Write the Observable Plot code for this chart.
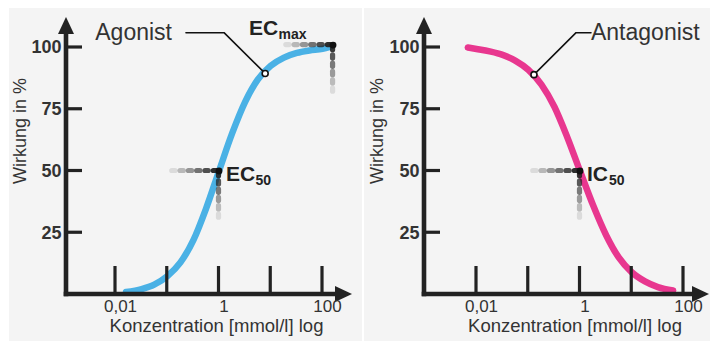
<!DOCTYPE html>
<html><head><meta charset="utf-8">
<script src="https://cdn.jsdelivr.net/npm/d3@7"></script>
<script src="https://cdn.jsdelivr.net/npm/@observablehq/plot@0.6"></script>
<style>
html,body{margin:0;padding:0;background:#fff;width:710px;height:341px;overflow:hidden;font-family:"Liberation Sans",Arial,sans-serif;}
.panel{position:absolute;top:8px;background:#f4f4f4;height:333px;}
#left{left:9px;width:353px;}
#right{left:364px;width:346px;}
svg{overflow:visible}
</style></head><body>
<div id="left" class="panel"></div><div id="right" class="panel"></div>
<script>
// ---- data ----
const xTickValues = [0.01, 0.1, 1, 10, 100];
const xLabelValues = [0.01, 1, 100];
const xLabelTexts = ["0,01", "1", "100"];
const yTickValues = [25, 50, 75, 100];
const xTitle = "Konzentration [mmol/l] log";
const yTitle = "Wirkung in %";

const agonistConc   = [0.016, 0.032, 0.056, 0.1, 0.18, 0.32, 0.56, 1, 1.8, 3.2, 5.6, 10, 18, 32, 56, 100, 140];
const agonistEffect = [1, 2.2, 4, 7.4, 13, 22, 34.7, 50, 65.3, 78, 87, 92.6, 95.9, 97.8, 98.8, 99.5, 100.3];

const antagonistConc   = [0.0068, 0.01, 0.018, 0.032, 0.056, 0.1, 0.18, 0.32, 0.56, 1, 1.8, 3.2, 5.6, 10, 18, 32, 63];
const antagonistEffect = [100, 99.4, 98.4, 97, 94.7, 91, 85, 76, 64, 50, 36, 24, 15, 9, 5.3, 3, 1.6];

// annotation points (concentration, effect)
const agonistName = "Agonist";
const agonistLeaderConc = [0.23, 1.25, 7.8];
const agonistLeaderEffect = [106, 106, 89.5];
const ec50Point = {conc: 1, effect: 50};
const ecMaxPoint = {conc: 160, effect: 101};

const antagonistName = "Antagonist";
const antagonistLeaderConc = [1.63, 0.84, 0.129];
const antagonistLeaderEffect = [106, 106, 89];
const ic50Point = {conc: 1, effect: 50};

const FONT = '"Liberation Sans", Arial, Helvetica, sans-serif';
const INK = "#222";
const TEXT = "#333";
const NS = "http://www.w3.org/2000/svg";

function el(tag, attrs) {
  const e = document.createElementNS(NS, tag);
  for (const k in attrs) e.setAttribute(k, attrs[k]);
  return e;
}

// axis lines, arrowheads and tick strokes, positioned by the plot's scales
function axesMark(index, scales, values, dims) {
  const g = el("g", {});
  const x0 = dims.marginLeft, y0 = scales.y(0);
  const xEnd = dims.width - dims.marginRight, yEnd = dims.marginTop;
  const ah = 17, aw = 8;
  g.appendChild(el("line", {x1: x0, y1: y0 + 2.3, x2: x0, y2: yEnd + ah - 1, stroke: INK, "stroke-width": 4.6}));
  g.appendChild(el("line", {x1: x0 - 2.3, y1: y0, x2: xEnd - ah + 1, y2: y0, stroke: INK, "stroke-width": 4.6}));
  g.appendChild(el("polygon", {points: `${x0},${yEnd} ${x0 - aw},${yEnd + ah} ${x0 + aw},${yEnd + ah}`, fill: INK}));
  g.appendChild(el("polygon", {points: `${xEnd},${y0} ${xEnd - ah},${y0 - aw} ${xEnd - ah},${y0 + aw}`, fill: INK}));
  for (const v of xTickValues) {
    const px = scales.x(v);
    g.appendChild(el("line", {x1: px, y1: y0, x2: px, y2: y0 - 28, stroke: INK, "stroke-width": 3.2}));
  }
  for (const v of yTickValues) {
    const py = scales.y(v);
    g.appendChild(el("line", {x1: x0, y1: py, x2: x0 + 16, y2: py, stroke: INK, "stroke-width": 3.2}));
  }
  return g;
}

// fading dashed guide lines (to the left and downward) from a point
function fadeGuides(points, hLen, vLen) {
  return (index, scales) => {
    const g = el("g", {"stroke-linecap": "round"});
    const step = 8.3, seg = 3.2;
    for (const p of points) {
      const px = scales.x(p.conc), py = scales.y(p.effect);
      const nh = Math.round(hLen / step), nv = Math.round(vLen / step);
      for (let i = 0; i < nh; i++) {
        const x2 = px - 2 - i * step, x1 = x2 - seg;
        g.appendChild(el("line", {x1, y1: py, x2, y2: py, stroke: "#262626", "stroke-width": 5.2, "stroke-opacity": (0.97 - 0.85 * i / (nh - 1)).toFixed(3)}));
      }
      for (let i = 0; i < nv; i++) {
        const y1 = py + 2 + i * step, y2 = y1 + seg;
        g.appendChild(el("line", {x1: px, y1, x2: px, y2, stroke: "#262626", "stroke-width": 5.2, "stroke-opacity": (0.92 - 0.8 * i / (nv - 1)).toFixed(3)}));
      }
    }
    return g;
  };
}

function basePlot(cfg, marks) {
  return Plot.plot({
    width: cfg.width, height: 333,
    marginLeft: cfg.marginLeft, marginRight: cfg.marginRight, marginTop: 9, marginBottom: 47,
    style: {background: "transparent", fontFamily: FONT, color: TEXT, overflow: "visible"},
    x: {type: "log", domain: [0.01, 100], range: cfg.xRange},
    y: {type: "linear", domain: [0, 100], range: [286, 39]},
    marks: [
      Plot.line(cfg.curve, {x: "conc", y: "effect", stroke: cfg.color, strokeWidth: 6.5, curve: "monotone-x", strokeLinecap: "round"}),
      axesMark,
      Plot.axisY(yTickValues, {tickSize: 0, tickPadding: 5, fontSize: 18, fontWeight: "bold", label: null, fill: TEXT}),
      Plot.axisX(xLabelValues, {tickSize: 0, tickPadding: 5, fontSize: 17, label: null, fill: TEXT, dx: 5,
        tickFormat: d => xLabelTexts[xLabelValues.indexOf(d)]}),
      Plot.text([xTitle], {frameAnchor: "bottom", lineAnchor: "bottom", dx: cfg.titleDx, dy: 37, fontSize: 18.5, fill: TEXT}),
      Plot.text([yTitle], {frameAnchor: "left", rotate: -90, dx: cfg.yTitleDx, dy: 28, fontSize: 18, fill: TEXT}),
      ...marks
    ]
  });
}

const agonistCurve = agonistConc.map((c, i) => ({conc: c, effect: agonistEffect[i]}));
const antagonistCurve = antagonistConc.map((c, i) => ({conc: c, effect: antagonistEffect[i]}));
const agonistLeader = agonistLeaderConc.map((c, i) => ({conc: c, effect: agonistLeaderEffect[i]}));
const antagonistLeader = antagonistLeaderConc.map((c, i) => ({conc: c, effect: antagonistLeaderEffect[i]}));

const left = basePlot({width: 353, marginLeft: 57, marginRight: 10, xRange: [106, 313], curve: agonistCurve, color: "#4ab1e5", titleDx: 7, yTitleDx: -46}, [
  fadeGuides([ec50Point], 46, 52),
  fadeGuides([ecMaxPoint], 50, 50),
  Plot.dot([ec50Point, ecMaxPoint], {x: "conc", y: "effect", r: 3.4, fill: "#111"}),
  Plot.line(agonistLeader, {x: "conc", y: "effect", stroke: "#111", strokeWidth: 1.6}),
  Plot.dot([agonistLeader[2]], {x: "conc", y: "effect", r: 3, fill: "#fff", stroke: "#111", strokeWidth: 1.6}),
  Plot.text([agonistLeader[0]], {x: "conc", y: "effect", text: () => agonistName, textAnchor: "end", dx: -14, fontSize: 23, fill: TEXT}),
  Plot.text([ec50Point], {x: "conc", y: "effect", text: () => "EC", textAnchor: "start", lineAnchor: "bottom", dx: 7, dy: 9.5, fontSize: 21, fontWeight: "bold", fill: INK}),
  Plot.text([ec50Point], {x: "conc", y: "effect", text: () => "50", textAnchor: "start", lineAnchor: "bottom", dx: 36.5, dy: 13.5, fontSize: 14, fontWeight: "bold", fill: INK}),
  Plot.text([ecMaxPoint], {x: "conc", y: "effect", text: () => "EC", textAnchor: "start", lineAnchor: "bottom", dx: -84, dy: -10.5, fontSize: 21, fontWeight: "bold", fill: INK}),
  Plot.text([ecMaxPoint], {x: "conc", y: "effect", text: () => "max", textAnchor: "start", lineAnchor: "bottom", dx: -54.5, dy: -6, fontSize: 14, fontWeight: "bold", fill: INK})
]);

const right = basePlot({width: 346, marginLeft: 60, marginRight: 1, xRange: [112, 319], curve: antagonistCurve, color: "#e8378f", titleDx: 8, yTitleDx: -47}, [
  fadeGuides([ic50Point], 47, 52),
  Plot.dot([ic50Point], {x: "conc", y: "effect", r: 3.4, fill: "#111"}),
  Plot.line(antagonistLeader, {x: "conc", y: "effect", stroke: "#111", strokeWidth: 1.6}),
  Plot.dot([antagonistLeader[2]], {x: "conc", y: "effect", r: 3, fill: "#fff", stroke: "#111", strokeWidth: 1.6}),
  Plot.text([antagonistLeader[0]], {x: "conc", y: "effect", text: () => antagonistName, textAnchor: "start", dx: 0, fontSize: 23, fill: TEXT}),
  Plot.text([ic50Point], {x: "conc", y: "effect", text: () => "IC", textAnchor: "start", lineAnchor: "bottom", dx: 7, dy: 9.5, fontSize: 21, fontWeight: "bold", fill: INK}),
  Plot.text([ic50Point], {x: "conc", y: "effect", text: () => "50", textAnchor: "start", lineAnchor: "bottom", dx: 29, dy: 13.5, fontSize: 14, fontWeight: "bold", fill: INK})
]);

document.getElementById("left").appendChild(left);
document.getElementById("right").appendChild(right);
</script>
</body></html>
